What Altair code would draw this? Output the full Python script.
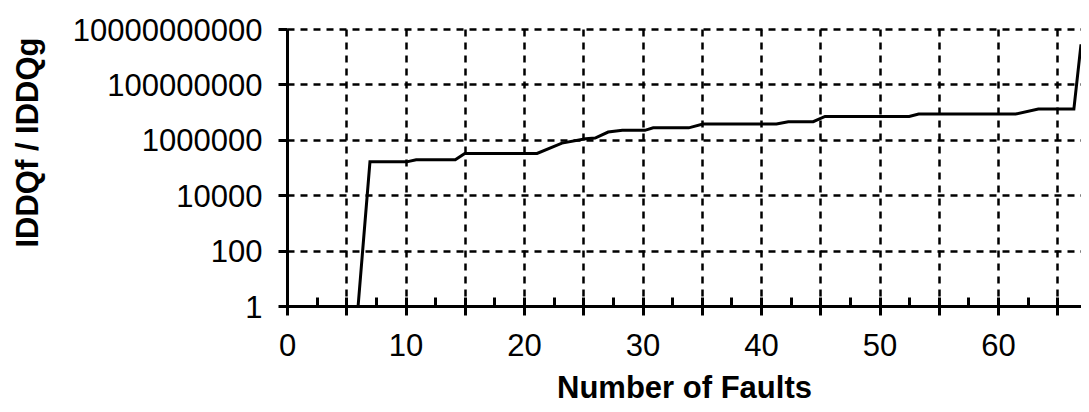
import altair as alt
import pandas as pd

# Data (x = number of faults, y = IDDQf / IDDQg)
faults = [6, 7, 10.1, 10.9, 14.2, 15.0, 21.1, 23.2, 25.2, 26.0, 27.1, 28.3, 30.2,
          30.9, 33.9, 35.1, 41.3, 42.3, 44.4, 45.4, 52.5, 53.3, 61.5, 63.4, 66.4, 67]
ratio = [1, 1.6e5, 1.6e5, 1.9e5, 1.9e5, 3.2e5, 3.2e5, 7.6e5, 1.1e6, 1.15e6, 1.9e6,
         2.2e6, 2.2e6, 2.7e6, 2.7e6, 3.7e6, 3.7e6, 4.5e6, 4.5e6, 7.0e6, 7.0e6,
         8.5e6, 8.5e6, 1.3e7, 1.3e7, 2.8e9]

x_major = [0, 5, 10, 15, 20, 25, 30, 35, 40, 45, 50, 55, 60, 65]
x_minor = [2.5, 5, 7.5, 10, 12.5, 15, 17.5, 20, 22.5, 25, 27.5, 30, 32.5, 35, 37.5,
           40, 42.5, 45, 47.5, 50, 52.5, 55, 57.5, 60, 62.5, 65]
y_ticks = [1, 100, 10000, 1000000, 100000000, 10000000000]

df = pd.DataFrame({"faults": faults, "ratio": ratio})

FONT = "Liberation Sans"
W, H = 794, 277

xscale = alt.Scale(domain=[0, 67], nice=False, zero=False)
yscale = alt.Scale(type="log", domain=[1, 1e10], nice=False)

main = alt.Chart(df).mark_line(color="black", strokeWidth=3, clip=True).encode(
    x=alt.X("faults:Q", scale=xscale, axis=alt.Axis(
        orient="bottom",
        values=x_major,
        labelExpr="datum.value % 10 == 0 ? datum.label : ''",
        grid=True, gridColor="black", gridDash=[7, 6], gridWidth=2.5, gridOpacity=1,
        domainColor="black", domainWidth=3,
        tickColor="black", tickWidth=3, tickSize=9,
        labelFont=FONT, labelFontSize=31, labelColor="black",
        labelBaseline="alphabetic", labelPadding=40, labelFlush=False,
        title="Number of Faults", titleFont=FONT, titleFontSize=31,
        titleFontWeight="bold", titleColor="black",
        titleBaseline="alphabetic", titleY=91, titleX=W / 2)),
    y=alt.Y("ratio:Q", scale=yscale, axis=alt.Axis(
        orient="left",
        values=y_ticks, format=".0f",
        grid=True, gridColor="black", gridDash=[7, 6], gridWidth=2.5, gridOpacity=1,
        domainColor="black", domainWidth=3,
        tickColor="black", tickWidth=3, tickSize=9,
        labelFont=FONT, labelFontSize=31, labelColor="black", labelLimit=400,
        labelBaseline="alphabetic", labelOffset=11, labelPadding=16,
        title="IDDQf / IDDQg", titleFont=FONT, titleFontSize=31,
        titleFontWeight="bold", titleColor="black", titleAngle=270,
        titleBaseline="alphabetic", titleX=-250, titleY=113)),
)

inner = alt.Chart(df).mark_line(strokeOpacity=0).encode(
    x=alt.X("faults:Q", scale=xscale, axis=alt.Axis(
        values=x_minor, orient="bottom", offset=-9, tickSize=9, tickWidth=3,
        tickColor="black", domain=False, labels=False, grid=False, title=None)),
    y=alt.Y("ratio:Q", scale=yscale, axis=None),
)

chart = alt.layer(main, inner).resolve_axis(x="independent", y="independent").properties(
    width=W, height=H,
    autosize=alt.AutoSizeParams(type="none"),
    padding={"left": 279, "top": 21, "right": 0, "bottom": 106},
    background="white",
).configure_view(strokeWidth=0)

chart.save("out.html", embed_options={"renderer": "svg", "actions": False})
